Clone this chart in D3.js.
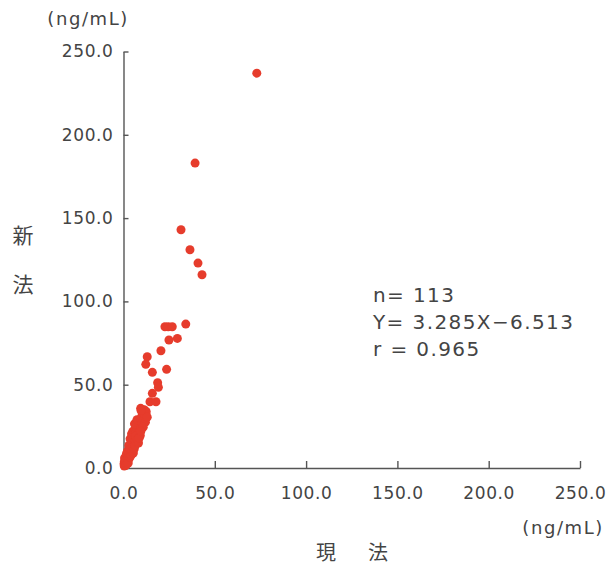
<!DOCTYPE html>
<html>
<head>
<meta charset="utf-8">
<script src="https://cdn.jsdelivr.net/npm/d3@7"></script>
<style>
  body { margin: 0; background: #fff; }
  svg text { font-family: "DejaVu Sans", sans-serif; fill: #444; }
  .jp { font-family: "Noto Sans CJK JP", sans-serif; }
</style>
</head>
<body>
<svg id="chart" width="609" height="566"></svg>
<script>
// current method (x) vs new method (y), ng/mL
const xVals = [
  73, 39.2, 31.5, 36.4, 40.8, 43, 34.1, 22.7, 24.5, 26.7, 29.5, 24.9, 20.5, 13, 12.2,
  23.6, 15.8, 18.7, 19.1, 15.8, 14.5, 17.8, 9.4, 12.3,
  0.3, 0.5, 0.8, 1.0, 1.2, 1.5, 1.3, 1.8, 2.0, 2.2, 2.5, 2.4, 2.8, 3.0, 0.6, 1.6, 2.1, 3.2, 0.9, 1.9,
  3.3, 3.5, 3.8, 4.0, 4.2, 4.5, 4.8, 5.0, 5.3, 5.5, 5.7, 6.0, 3.6, 4.4, 5.1, 6.2, 2.9, 3.9,
  6.3, 6.5, 6.8, 7.0, 7.2, 7.5, 7.8, 8.0, 8.3, 8.5, 8.8, 9.0, 6.0, 7.4, 9.2,
  9.4, 9.7, 10.0, 10.2, 10.6, 11.0, 11.3, 11.7, 12.0, 12.4, 10.8, 13.0, 9.6,
  0.4, 0.7, 1.1, 1.4, 1.7, 2.3, 2.6, 2.7, 3.1, 3.4, 3.7, 4.1, 4.6, 4.9, 5.4, 5.9, 6.4, 6.7,
  7.1, 7.7, 8.2, 8.6, 9.5
];
const yVals = [
  237, 183, 143, 131, 123, 116, 86.4, 84.8, 84.8, 84.8, 77.8, 76.8, 70.4, 66.8, 62.2,
  59.2, 57.4, 51.2, 48.4, 44.8, 39.8, 39.8, 35.8, 32.8,
  2.5, 4.0, 3.2, 5.5, 2.8, 6.8, 4.5, 5.0, 7.5, 4.2, 8.8, 6.2, 10.5, 7.8, 6.0, 8.5, 10.0, 5.8, 1.5, 3.5,
  12.0, 9.5, 14.0, 11.0, 16.5, 13.0, 18.5, 15.0, 11.5, 20.0, 17.0, 14.0, 17.5, 20.5, 22.0, 19.5, 13.5, 8.5,
  23.0, 16.5, 21.0, 25.5, 18.5, 23.5, 27.0, 20.5, 24.5, 28.5, 22.0, 26.0, 26.5, 29.0, 19.5,
  29.5, 24.0, 31.0, 27.0, 33.5, 29.0, 35.0, 31.5, 27.5, 34.0, 24.5, 30.5, 34.5,
  1.2, 2.0, 3.8, 1.8, 2.5, 5.5, 3.0, 6.8, 9.0, 6.5, 11.0, 7.5, 10.0, 12.5, 9.0, 11.5, 13.5, 19.0,
  15.5, 17.5, 15.0, 18.0, 22.0
];
const tickVals = [0, 50, 100, 150, 200, 250];
const statLines = ["n= 113", "Y= 3.285X\u22126.513", "r = 0.965"];

const svg = d3.select("#chart");

const x = d3.scaleLinear().domain([0, 250]).range([123.5, 580]);
const y = d3.scaleLinear().domain([0, 250]).range([468, 51.5]);
const fmt = d3.format(".1f");

const xAxis = svg.append("g")
  .attr("transform", `translate(0,${y(0)})`)
  .call(d3.axisBottom(x).tickValues(tickVals).tickFormat(fmt)
    .tickSizeInner(-7).tickSizeOuter(0).tickPadding(19));

const yAxis = svg.append("g")
  .attr("transform", `translate(${x(0)},0)`)
  .call(d3.axisLeft(y).tickValues(tickVals).tickFormat(fmt)
    .tickSizeInner(-5).tickSizeOuter(0).tickPadding(10));

[xAxis, yAxis].forEach(g => {
  g.select(".domain").attr("stroke", "#555").attr("stroke-width", 1.4);
  g.selectAll(".tick line").attr("stroke", "#555").attr("stroke-width", 1.4);
  g.selectAll(".tick text")
    .attr("font-size", 17)
    .attr("letter-spacing", 0.6)
    .attr("fill", "#444")
    .style("font-family", "'DejaVu Sans', sans-serif");
});

// points
svg.append("g").selectAll("circle")
  .data(xVals.map((v, i) => [v, yVals[i]]))
  .enter().append("circle")
  .attr("cx", d => x(d[0]))
  .attr("cy", d => y(d[1]))
  .attr("r", 4.5)
  .attr("fill", "#e63c2c");

// units
svg.append("text")
  .attr("x", 129).attr("y", 25)
  .attr("text-anchor", "end")
  .attr("font-size", 18).attr("letter-spacing", 1.6)
  .text("(ng/mL)");
svg.append("text")
  .attr("x", 604).attr("y", 534)
  .attr("text-anchor", "end")
  .attr("font-size", 18).attr("letter-spacing", 1.6)
  .text("(ng/mL)");

// axis titles
svg.append("text").attr("class", "jp")
  .attr("x", 23).attr("y", 243)
  .attr("text-anchor", "middle").attr("font-size", 21)
  .text("新");
svg.append("text").attr("class", "jp")
  .attr("x", 23).attr("y", 292)
  .attr("text-anchor", "middle").attr("font-size", 21)
  .text("法");
svg.append("text").attr("class", "jp")
  .attr("x", 326).attr("y", 560)
  .attr("text-anchor", "middle").attr("font-size", 20)
  .text("現");
svg.append("text").attr("class", "jp")
  .attr("x", 378).attr("y", 560)
  .attr("text-anchor", "middle").attr("font-size", 20)
  .text("法");

// statistics
svg.append("g").selectAll("text")
  .data(statLines)
  .enter().append("text")
  .attr("x", 373)
  .attr("y", (d, i) => 302 + i * 27)
  .attr("font-size", 20)
  .attr("letter-spacing", 1.4)
  .text(d => d);
</script>
</body>
</html>
